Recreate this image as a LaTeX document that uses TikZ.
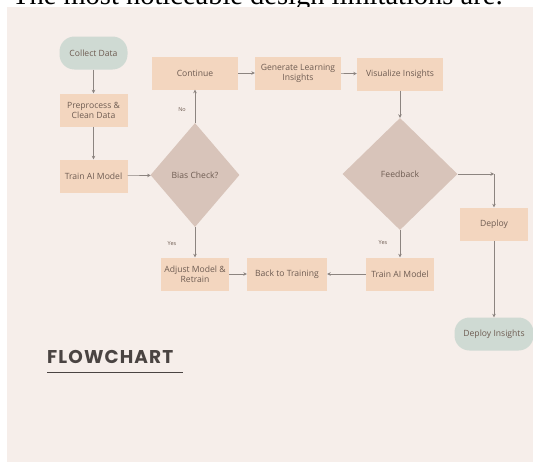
\documentclass[tikz,border=0pt]{standalone}
\usepackage{fontspec}
\usepackage{graphicx}
\setmainfont{Open Sans}
\newfontfamily\serifT{Liberation Serif}
\newfontfamily\titlef[LetterSpace=6]{Poppins}
\usetikzlibrary{arrows.meta,shapes.geometric}
\definecolor{panel}{HTML}{F6EEEA}
\definecolor{peach}{HTML}{F3D6BF}
\definecolor{taupe}{HTML}{D8C4BA}
\definecolor{sage}{HTML}{CFDAD3}
\definecolor{txt}{HTML}{6E5C52}
\definecolor{ln}{HTML}{8C8480}
\definecolor{ttl}{HTML}{4A4442}
\tikzset{
  box/.style={fill=peach, minimum width=68pt, minimum height=33pt, inner sep=1pt,
    align=center, text=txt, font=\fontsize{8.6}{10}\selectfont},
  wbox/.style={box, minimum width=86pt},
  pill/.style={box, fill=sage, rounded corners=15pt},
  dia/.style={diamond, fill=taupe, inner sep=0pt, text=txt, font=\fontsize{8.6}{10}\selectfont},
  arr/.style={draw=ln, line width=0.6pt, -{Stealth[length=3.5pt,width=3.5pt]}},
  lbl/.style={text=txt, font=\fontsize{5.5}{6}\selectfont, inner sep=0pt}
}
\begin{document}
\begin{tikzpicture}[x=1pt,y=-1pt]
\useasboundingbox (0,0) rectangle (533,463);
\fill[white] (0,0) rectangle (533,463);
\node[anchor=base west, inner sep=0pt, font=\serifT] (toptext) at (12,5)
  {\resizebox{491pt}{!}{The most noticeable design limitations are:}};
\fill[panel] (7,7) rectangle (533,462);

\node[pill] (collect) at (93.5,53) {Collect Data};
\node[box] (prep) at (93.5,110) {Preprocess \&\\Clean Data};
\node[box] (train1) at (93.5,176) {Train AI Model};
\node[dia, minimum width=89pt, minimum height=104pt] (bias) at (195,175) {Bias Check?};
\node[wbox] (cont) at (195,73) {Continue};
\node[wbox] (gen) at (298,73) {Generate Learning\\Insights};
\node[wbox] (vis) at (400,74) {Visualize Insights};
\node[dia, minimum width=115pt, minimum height=112pt] (fb) at (400,174) {Feedback};
\node[box] (adj) at (195,274) {Adjust Model \&\\Retrain};
\node[box, minimum width=80pt] (back) at (287,274) {Back to Training};
\node[box] (train2) at (400,274) {Train AI Model};
\node[box] (deploy) at (494,224) {Deploy};
\node[pill, minimum width=79pt] (dins) at (494,334) {Deploy Insights};
\coordinate (j) at (494,174);

\draw[arr] (collect) -- (prep);
\draw[arr] (prep) -- (train1);
\draw[arr] (train1) -- (bias);
\draw[arr] (bias) -- (cont);
\draw[arr] (bias) -- (adj);
\draw[arr] (cont) -- (gen);
\draw[arr] (gen) -- (vis);
\draw[arr] (vis) -- (fb);
\draw[arr] (fb) -- (train2);
\draw[arr] (train2) -- (back);
\draw[arr] (adj) -- (back);
\draw[arr] (fb.east) -- (j);
\draw[arr] (j) -- (deploy);
\draw[arr] (deploy) -- (dins);

\node[lbl] (no1) at (182,110) {No};
\node[lbl] (yes1) at (172,244) {Yes};
\node[lbl] (yes2) at (383,243) {Yes};

\node[anchor=base west, inner sep=0pt, text=ttl, font=\titlef\bfseries\fontsize{18.5}{20}\selectfont] (title) at (47,363) {FLOWCHART};
\coordinate (u1) at (47,372);
\coordinate (u2) at (183,372);
\draw[ttl, line width=0.8pt] (u1) -- (u2);
\end{tikzpicture}
\end{document}
